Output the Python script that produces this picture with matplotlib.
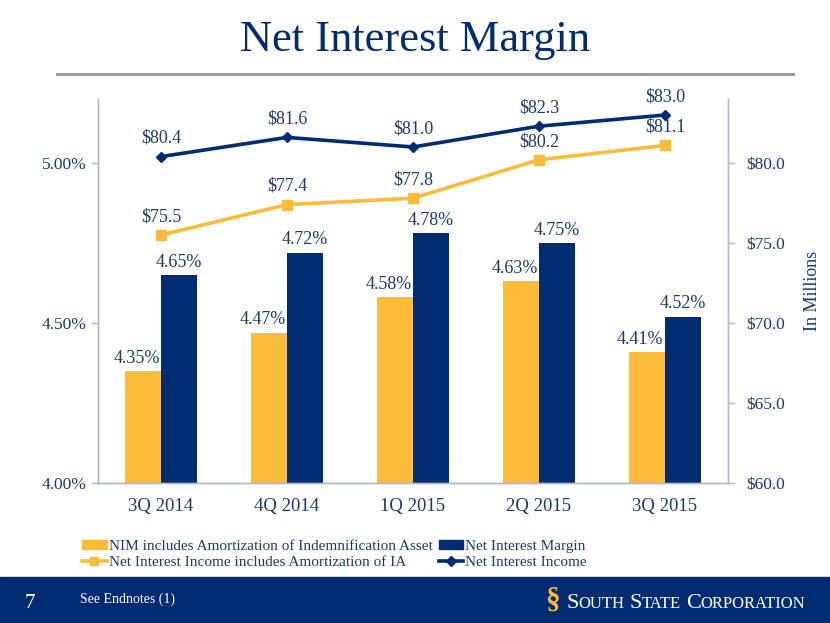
import numpy as np
import matplotlib
matplotlib.use("Agg")
import matplotlib.pyplot as plt
from matplotlib.lines import Line2D
from matplotlib.patches import Patch, Rectangle

# %%
# Quarterly data
quarters = ["3Q 2014", "4Q 2014", "1Q 2015", "2Q 2015", "3Q 2015"]
nim_incl_ia = [4.35, 4.47, 4.58, 4.63, 4.41]      # %, yellow bars
nim = [4.65, 4.72, 4.78, 4.75, 4.52]              # %, navy bars
nii_incl_ia = [75.5, 77.4, 77.8, 80.2, 81.1]      # $M, yellow line
nii = [80.4, 81.6, 81.0, 82.3, 83.0]              # $M, navy line

pct_ticks = [4.00, 4.50, 5.00]
usd_ticks = [60, 65, 70, 75, 80]

NAVY = "#002D72"
TEXT = "#1C3A6E"
YELLOW = "#FDBB3A"
SPINE = "#B4B8CC"

plt.rcParams["font.family"] = ["Liberation Serif", "DejaVu Serif"]

# %%
fig = plt.figure(figsize=(8.3, 6.23), dpi=100)
ax = fig.add_axes([98 / 830, 140 / 623, 630 / 830, 384 / 623])
ax2 = ax.twinx()

x = np.arange(len(quarters))
w = 0.286
ax.bar(x - w / 2, nim_incl_ia, w, color=YELLOW, zorder=2)
ax.bar(x + w / 2, nim, w, color=NAVY, zorder=2)
# yellow bar labels sit flush with the bar's right edge, navy ones are centred
for xi, v in zip(x, nim_incl_ia):
    ax.annotate(f"{v:.2f}%", (xi, v), xytext=(-1, 3), textcoords="offset points",
                ha="right", va="bottom", fontsize=13, color=TEXT)
for xi, v in zip(x, nim):
    ax.annotate(f"{v:.2f}%", (xi + w / 2, v), xytext=(0, 3), textcoords="offset points",
                ha="center", va="bottom", fontsize=13, color=TEXT)

ax.set_ylim(4.0, 5.2)
ax.set_xlim(-0.5, len(quarters) - 0.5)
ax.set_yticks(pct_ticks)
ax.set_yticklabels([f"{t:.2f}%" for t in pct_ticks])
ax.set_xticks(x)
ax.set_xticklabels(quarters)

ax2.plot(x, nii_incl_ia, color=YELLOW, lw=2.6, marker="s", ms=7, zorder=3)
ax2.plot(x, nii, color=NAVY, lw=2.6, marker="D", ms=5.5, zorder=3)
for xi, v in zip(x, nii_incl_ia):
    ax2.annotate(f"${v:.1f}", (xi, v), xytext=(0, 7), textcoords="offset points",
                 ha="center", va="bottom", fontsize=13, color=TEXT)
for xi, v in zip(x, nii):
    ax2.annotate(f"${v:.1f}", (xi, v), xytext=(0, 7), textcoords="offset points",
                 ha="center", va="bottom", fontsize=13, color=TEXT)
ax2.set_ylim(60, 84)
ax2.set_yticks(usd_ticks)
ax2.set_yticklabels([f"${t:.1f}" for t in usd_ticks])
ax2.set_ylabel("In Millions", fontsize=13, color=TEXT, labelpad=14)

for a in (ax, ax2):
    a.spines["top"].set_visible(False)
    for s in ("left", "right", "bottom"):
        a.spines[s].set_color(SPINE)
        a.spines[s].set_linewidth(1.0)
    a.tick_params(axis="y", colors=SPINE, labelcolor=TEXT, labelsize=12.5, length=5, width=1)
ax2.tick_params(axis="y", pad=8)
ax.tick_params(axis="x", length=0, labelsize=13.5, labelcolor=TEXT, pad=11)
ax.set_zorder(ax2.get_zorder() - 1)
ax.patch.set_visible(False)

# %%
# Legend under the chart
handles = [
    Patch(color=YELLOW),
    Line2D([], [], color=YELLOW, lw=2.6, marker="s", ms=6),
    Patch(color=NAVY),
    Line2D([], [], color=NAVY, lw=2.6, marker="D", ms=5),
]
labels = [
    "NIM includes Amortization of Indemnification Asset",
    "Net Interest Income includes Amortization of IA",
    "Net Interest Margin",
    "Net Interest Income",
]
fig.legend(handles, labels, loc="upper left", bbox_to_anchor=(76 / 830, 1 - 534 / 623),
           ncol=2, frameon=False, fontsize=11, labelcolor=TEXT, handlelength=1.6,
           handleheight=0.55, handletextpad=0.15, columnspacing=0.4, labelspacing=0.2,
           borderaxespad=0)

# %%
# Slide chrome: title, rule, footer band
fig.text(0.5, 1 - 40 / 623, "Net Interest Margin", ha="center", va="center",
         fontsize=32, color=NAVY)
fig.add_artist(Line2D([57 / 830, 793 / 830], [1 - 74 / 623] * 2, color="#9A9A9A", lw=2.2))
fig.add_artist(Rectangle((0, 0), 1, 46 / 623, color=NAVY, transform=fig.transFigure, zorder=0))
fig.text(30 / 830, 1 - 604 / 623, "7", ha="center", va="center", fontsize=15, color="white")
fig.text(80 / 830, 1 - 599 / 623, "See Endnotes (1)", ha="left", va="center",
         fontsize=10, color="white")
fig.text(552 / 830, 1 - 600 / 623, "§", ha="center", va="center", fontsize=21,
         fontweight="bold", color=YELLOW)

# small caps company name
renderer = fig.canvas.get_renderer()
xpos = 566
for word in ["South", "State", "Corporation"]:
    t1 = fig.text(xpos / 830, 1 - 608 / 623, word[0].upper(), fontsize=16,
                  color="white", va="baseline")
    xpos += t1.get_window_extent(renderer).width
    t2 = fig.text(xpos / 830, 1 - 608 / 623, word[1:].upper(), fontsize=12,
                  color="white", va="baseline")
    xpos += t2.get_window_extent(renderer).width + 5

fig.savefig("out.png", dpi=100)
